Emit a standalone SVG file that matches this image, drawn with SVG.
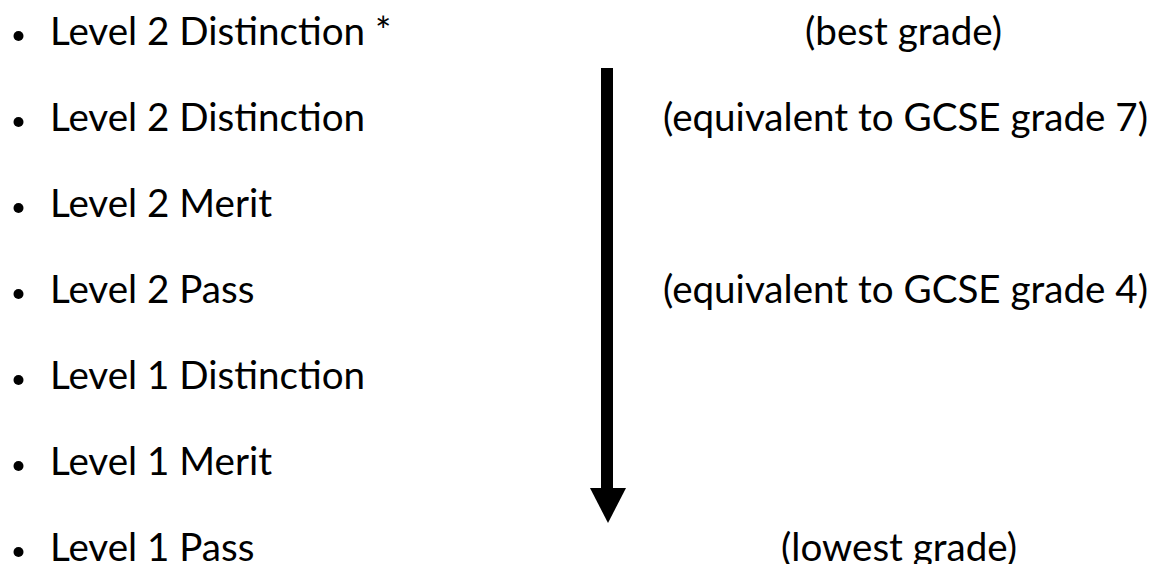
<svg xmlns="http://www.w3.org/2000/svg" width="1155" height="564" viewBox="0 0 1155 564">
  <style>
    text { font-family: Lato, "Open Sans", "Liberation Sans", sans-serif; font-size: 38.6px; fill: #000; }
    .bullet { fill: #000; }
  </style>
  <rect width="1155" height="564" fill="#fff"/>
  <g id="item1"><circle class="bullet" cx="18.5" cy="36" r="5"/><text x="50" y="44.5">Level 2 Distinction *</text></g>
  <g id="item2"><circle class="bullet" cx="18.5" cy="122" r="5"/><text x="50" y="130.5">Level 2 Distinction</text></g>
  <g id="item3"><circle class="bullet" cx="18.5" cy="208" r="5"/><text x="50" y="216.5">Level 2 Merit</text></g>
  <g id="item4"><circle class="bullet" cx="18.5" cy="294" r="5"/><text x="50" y="302.5">Level 2 Pass</text></g>
  <g id="item5"><circle class="bullet" cx="18.5" cy="380" r="5"/><text x="50" y="388.5">Level 1 Distinction</text></g>
  <g id="item6"><circle class="bullet" cx="18.5" cy="466" r="5"/><text x="50" y="474.5">Level 1 Merit</text></g>
  <g id="item7"><circle class="bullet" cx="18.5" cy="552" r="5"/><text x="50" y="560.5">Level 1 Pass</text></g>
  <g id="note-best"><text x="805" y="44.5">(best grade)</text></g>
  <g id="note-gcse7"><text x="663" y="130.5">(equivalent to GCSE grade 7)</text></g>
  <g id="note-gcse4"><text x="663" y="302.5">(equivalent to GCSE grade 4)</text></g>
  <g id="note-lowest"><text x="781" y="560.5">(lowest grade)</text></g>
  <g id="connectors">
    <rect x="601" y="68" width="12" height="421" fill="#000"/>
    <polygon points="590,488 626,488 608,523" fill="#000"/>
  </g>
</svg>
